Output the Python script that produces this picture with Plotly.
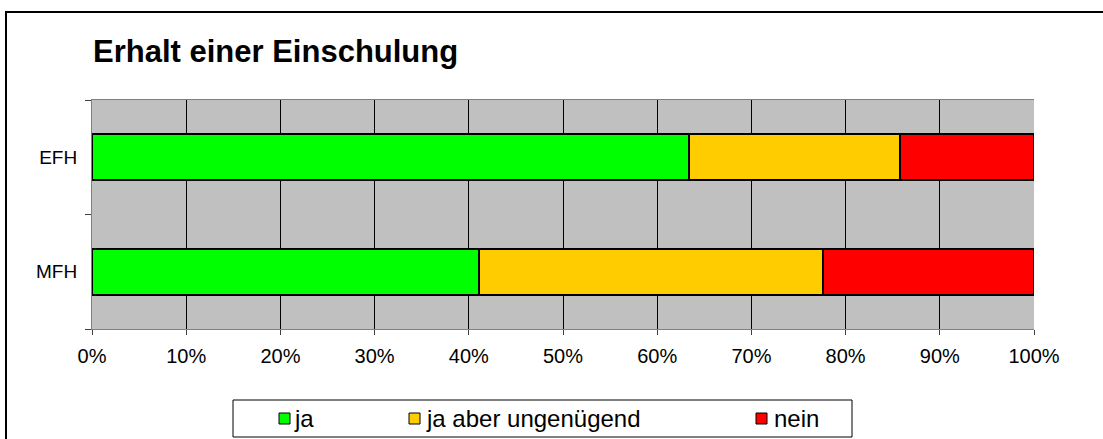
import plotly.graph_objects as go

# ---- data ----
categories = ["EFH", "MFH"]
ja = [63.4, 41.1]
ja_aber = [22.4, 36.5]
nein = [14.2, 22.4]
series_names = ["ja", "ja aber ungenügend", "nein"]
series_colors = ["#00FF00", "#FFCC00", "#FF0000"]
x_tick_vals = [0, 10, 20, 30, 40, 50, 60, 70, 80, 90, 100]
x_tick_text = [f"{v}%" for v in x_tick_vals]
title_text = "Erhalt einer Einschulung"

FONT = "Liberation Sans, Arial, sans-serif"

W, H = 1103, 439
L, R, T, B = 92, 1034, 100, 329  # plot area pixels

def px(x):
    return (x - L) / (R - L)

def py(y):
    return (B - y) / (B - T)

fig = go.Figure()
for name, vals, col in zip(series_names, [ja, ja_aber, nein], series_colors):
    fig.add_trace(go.Bar(
        y=categories, x=vals, name=name, orientation="h",
        marker=dict(color=col, line=dict(color="black", width=2)),
        showlegend=False,
    ))

fig.update_layout(
    width=W, height=H,
    margin=dict(l=L, r=W - R, t=T, b=H - B, pad=0),
    barmode="stack", bargap=0.6,
    plot_bgcolor="#C0C0C0", paper_bgcolor="white",
    font=dict(family=FONT, color="black"),
    xaxis=dict(
        range=[0, 100], tickvals=x_tick_vals, ticktext=x_tick_text,
        ticks="outside", ticklen=5, tickcolor="#404040",
        showgrid=True, gridcolor="#000000", gridwidth=1,
        showline=True, linecolor="#808080", linewidth=1, mirror=True,
        zeroline=False, tickfont=dict(size=20, family=FONT),
        ticklabelstandoff=4,
    ),
    yaxis=dict(
        categoryorder="array", categoryarray=["MFH", "EFH"],
        range=[-0.5, 1.5], tickson="boundaries",
        ticks="outside", ticklen=6, tickcolor="#404040",
        showgrid=False, showline=True, linecolor="#808080", linewidth=1,
        tickfont=dict(size=19, family=FONT), ticklabelstandoff=10,
    ),
)

shapes = []
annotations = []
# outer frame (right/bottom edges lie outside the canvas)
shapes.append(dict(type="rect", xref="paper", yref="paper",
                   x0=px(6), x1=1.2, y0=-0.7, y1=py(12),
                   line=dict(color="black", width=2), fillcolor="rgba(0,0,0,0)", layer="above"))
# title
annotations.append(dict(text=f"<b>{title_text}</b>", xref="paper", yref="paper",
                        x=px(91), y=py(51), xanchor="left", yanchor="middle",
                        showarrow=False, font=dict(size=31, family=FONT, color="black")))
# legend box
shapes.append(dict(type="rect", xref="paper", yref="paper",
                   x0=px(233), x1=px(852), y0=py(437), y1=py(400),
                   line=dict(color="black", width=1), fillcolor="white"))
sq_x = [279, 409, 756]
txt_x = [292, 424, 772]
for name, col, sx, tx in zip(series_names, series_colors, sq_x, txt_x):
    shapes.append(dict(type="rect", xref="paper", yref="paper",
                       x0=px(sx), x1=px(sx + 11), y0=py(424), y1=py(413),
                       line=dict(color="black", width=1), fillcolor=col))
    annotations.append(dict(text=name, xref="paper", yref="paper",
                            x=px(tx), y=py(418), xanchor="left", yanchor="middle",
                            showarrow=False, font=dict(size=24, family=FONT, color="black")))

fig.update_layout(shapes=shapes, annotations=annotations)
fig.write_html("out.html", config={"displayModeBar": False},
               post_script="document.body.style.margin='0';document.body.style.overflow='hidden';")
